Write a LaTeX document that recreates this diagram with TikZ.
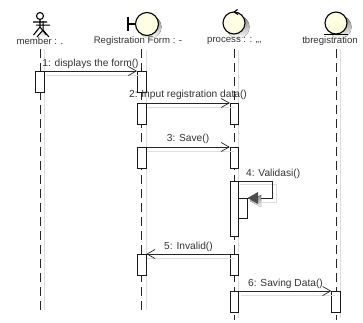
\documentclass[tikz,border=0pt]{standalone}
\usepackage{fontspec}
\setmainfont{Liberation Sans}
\usetikzlibrary{arrows.meta}
\definecolor{headfill}{RGB}{254,254,226}
\definecolor{shade}{RGB}{222,222,222}
\tikzset{
  x=1pt,y=-1pt,
  lab/.style={font=\fontsize{10.2}{11}\selectfont,text=black!80,inner sep=0pt},
  namelab/.style={font=\fontsize{9.6}{11}\selectfont,text=black!80,inner sep=0pt},
  life/.style={draw=black!85,line width=.8pt,dash pattern=on 9pt off 5pt},
  lifeshade/.style={draw=shade,line width=.8pt},
  actbox/.style={draw=black!90,fill=white,line width=.8pt,minimum width=8.5pt,inner sep=0pt,anchor=north},
  msg/.style={draw=black!85,line width=.8pt,-{Straight Barb[length=8pt,width=9pt,line width=.7pt]}},
  msgshade/.style={draw=shade,line width=.8pt},
  headshape/.style={draw=black,fill=headfill,line width=1.1pt},
}
\begin{document}
\begin{tikzpicture}
\useasboundingbox (0,0) rectangle (363,322);
% shadows of lifelines
\foreach \x/\a/\b in {44/50/310,146/50/310,238.5/50/318,340/50/318}
  \draw[lifeshade] (\x,\a) -- (\x,\b);
% lifelines
\coordinate (la) at (40,49); \coordinate (lae) at (40,312);
\coordinate (lb) at (141.7,49); \coordinate (lbe) at (141.7,312);
\coordinate (lc) at (234.5,49); \coordinate (lce) at (234.5,320);
\coordinate (ld) at (336,49); \coordinate (lde) at (336,320);
\draw[life] (la) -- (lae);
\draw[life] (lb) -- (lbe);
\draw[life] (lc) -- (lce);
\draw[life] (ld) -- (lde);
% actor
\draw[shade,line width=1pt] (43,21)--(43,30) (36,25)--(50,25) (37,37)--(43,30)--(49,37);
\node[draw=black,line width=1.1pt,circle,minimum size=7pt,inner sep=0pt,fill=white] (ahead) at (40,16) {};
\draw[black,line width=1.1pt] (ahead.south) -- (40,27) (33,22)--(47,22) (33.5,35)--(40,27)--(46.5,35);
% boundary
\fill[shade] (150,27) circle (11.5);
\node[headshape,circle,minimum size=23pt,inner sep=0pt] (bh) at (147,24) {};
\draw[black,line width=1.1pt] (bh.west) -- (128,24) (128,17)--(128,31);
% control
\fill[shade] (238,27) circle (11.5);
\node[headshape,circle,minimum size=22pt,inner sep=0pt] (ch) at (234,23) {};
\draw[black,line width=1.1pt] (234,12) -- (237.5,9.5) (234,12) -- (238,14.5);
% entity
\fill[shade] (340,27) circle (11.5);
\node[headshape,circle,minimum size=22pt,inner sep=0pt] (dh) at (336,23) {};
\draw[black,line width=1.3pt] (324,34.7) -- (348,34.7);
% names
\node[namelab] (na) at (40,41) {member : .};
\node[namelab] (nb) at (138,41) {Registration Form : -};
\node[namelab] (nc) at (234.5,41) {process : : ,,,};
\node[namelab] (nd) at (330,41) {tbregistration};
% activations
\node[actbox,minimum height=21pt] (a1) at (40,71) {};
\node[actbox,minimum height=21pt] (b1) at (141.7,71) {};
\node[actbox,minimum height=21pt] (b2) at (141.7,103) {};
\node[actbox,minimum height=21pt] (c2) at (234.5,103) {};
\node[actbox,minimum height=21pt] (b3) at (141.7,147) {};
\node[actbox,minimum height=21pt] (c3) at (234.5,147) {};
\node[actbox,minimum height=55pt] (c4) at (234.5,181) {};
\node[actbox,minimum height=20pt] (c4b) at (243,198) {};
\node[actbox,minimum height=21pt] (b5) at (141.7,254) {};
\node[actbox,minimum height=21pt] (c5) at (234.5,254) {};
\node[actbox,minimum height=21pt] (c6) at (234.5,291) {};
\node[actbox,minimum height=21pt] (d6) at (336,291) {};
% messages
\draw[msgshade] (46,75)--(141,75) (147,107)--(234,107) (147,151)--(234,151) (147,258)--(234,258) (241,295)--(335,295);
\draw[msgshade] (240,184)--(276,184)--(276,202)--(262,202);
\draw[msg] (a1.north east) -- (b1.north west);
\draw[msg] (b2.north east) -- (c2.north west);
\draw[msg] (b3.north east) -- (c3.north west);
\draw[msg] (c5.north west) -- (b5.north east);
\draw[msg] (c6.north east) -- (d6.north west);
\coordinate (sr) at (272,181);
\coordinate (srb) at (272,198);
\draw[draw=black!85,line width=.8pt] (c4.north east) -- (sr) -- (srb) -- (c4b.north east);
\fill[shade] (250,201) -- (261,195) -- (261,207) -- cycle;
\fill[black!70] (c4b.north east) -- (258,192) -- (258,204) -- cycle;
% labels
\node[lab] at (90.5,64) {1: displays the form()};
\node[lab] at (188,95) {2: Input registration data()};
\node[lab] at (188,139) {3: Save()};
\node[lab,anchor=west] at (246,174) {4: Validasi()};
\node[lab] at (188.5,247) {5: Invalid()};
\node[lab] at (285.5,284) {6: Saving Data()};
\end{tikzpicture}
\end{document}
